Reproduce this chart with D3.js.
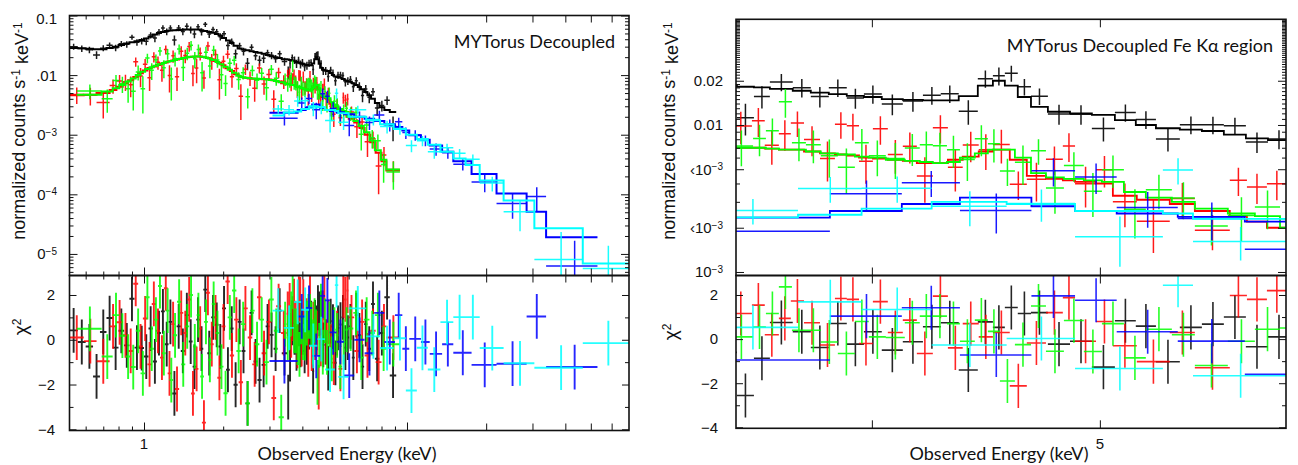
<!DOCTYPE html>
<html>
<head>
<meta charset="utf-8">
<script src="https://cdn.jsdelivr.net/npm/d3@7"></script>
<style>
  body { margin: 0; background: #fff; }
  svg text { font-family: "Liberation Sans", Arial, Helvetica, sans-serif; fill: #111; }
  svg text.cal { font-family: Lato, "Open Sans", sans-serif; }
</style>
</head>
<body>
<svg id="chart" width="1298" height="465"></svg>
<script>
// ---------------- spectra: bin edges (keV), model (counts/s/keV), residual (chi), 1-sigma error (% of model)

// EPIC-pn (black)
const pnEdges = [0.52,0.56,0.60,0.64,0.68,0.72,0.76,0.80,0.84,0.88,0.92,0.96,1.00,1.04,1.08,1.12,1.16,1.20,1.24,1.28,
  1.33,1.38,1.43,1.48,1.53,1.58,1.63,1.68,1.74,1.80,1.86,1.92,1.98,2.05,2.12,2.19,2.27,2.35,2.43,2.52,
  2.61,2.70,2.80,2.90,3.00,3.11,3.22,3.34,3.505,
  3.564,3.620,3.702,3.768,3.835,3.903,3.969,4.039,4.123,4.205,4.279,4.355,4.437,4.503,4.556,4.614,4.674,4.752,4.856,4.961,
  5.074,5.179,5.282,5.407,5.525,5.645,5.768,5.894,6.022,
  6.17,6.33,6.50,6.68,6.87,7.07,7.30,7.55,7.85,8.20,8.60,9.10];
const pnModel = [0.0286,0.0282,0.0276,0.0272,0.0272,0.0285,0.0300,0.0320,0.0340,0.0355,
  0.0370,0.0390,0.0410,0.0440,0.0480,0.0510,0.0530,0.0550,0.0558,0.0565,
  0.0572,0.0578,0.0580,0.0582,0.0582,0.0580,0.0565,0.0550,0.0530,0.0515,
  0.0490,0.0460,0.0420,0.0380,0.0345,0.0310,0.0280,0.0270,0.0262,0.0252,
  0.0245,0.0237,0.0228,0.0218,0.0208,0.0200,0.0193,0.0185,
  0.0182,0.0180,0.0176,0.0171,0.0166,0.0162,0.0158,0.0155,0.0150,0.0148,
  0.0147,0.0147,0.0157,0.0185,0.0200,0.0185,0.0155,0.0133,0.0123,0.0120,
  0.0117,0.0108,0.0100,0.0095,0.0093,0.0091,0.0086,0.0081,0.0079,
  0.0077,0.0073,0.0068,0.0063,0.0058,0.0052,0.0046,0.0040,0.0034,0.0029,0.0026,0.0024];
const pnChi = [0.42,-0.1,-0.3,-1.64,0.35,0.97,-0.35,0.4,-0.25,1.83,
  -0.35,-0.37,-0.75,0.5,-0.97,0.3,1.27,-0.2,0.8,-2.4,
  0.6,-0.5,1.1,-0.08,-1.2,0.9,-0.4,2.24,-0.6,1.0,
  0.67,-0.3,1.4,-1.34,0.5,-2.01,0.8,-0.5,-2.84,1.2,
  -0.97,-1.8,-1.12,0.6,0.22,-0.4,1.3,-0.6,
  -2.56,-0.87,0.75,0.33,-0.38,0.71,-0.23,0.33,-0.5,-0.12,
  0.56,0.74,-1.4,0.78,0.53,1.43,1.16,1.2,-0.23,-0.1,
  -1.27,0.83,0.59,-1.03,0.53,0.68,1.0,-0.35,0.1,
  0.6,-0.8,1.1,0.2,-1.2,0.7,-0.4,1.6,-0.85,0.3,1.9,-1.6];
const pnErr = [12,12,12,12,12,12,12,12,12,12,12,12,13,13,13,13,13,13,13,13,
  13,13,13,13,13,13,13,13,13,13,13,13,13,13,13,13,14,14,14,14,
  14,14,14,14,14,14,14,14,
  15,15,15,15,15,15,15,15,15,15,15,15,15,15,15,15,15,15,15,15,
  15,15,15,15,15,15,15,15,15,
  16,16,17,17,18,18,19,20,21,22,24,26];

// EPIC-MOS1 (red)
const mos1Edges = [0.52,0.59,0.66,0.74,0.785,0.83,0.87,0.91,0.95,0.99,1.03,1.07,1.11,1.15,1.19,1.23,1.27,1.31,1.36,1.41,
  1.46,1.51,1.56,1.61,1.66,1.72,1.78,1.84,1.90,1.97,2.04,2.12,2.20,2.29,2.38,2.48,2.58,2.69,2.80,2.92,
  3.05,3.18,3.32,3.48,
  3.557,3.602,3.652,3.695,3.743,3.802,3.858,3.903,3.950,4.004,4.063,4.123,4.180,4.246,4.309,4.372,4.441,4.503,4.578,4.655,
  4.743,4.822,4.880,4.981,5.064,5.184,5.354,5.487,5.678,5.774,5.888,6.003,
  6.30,6.60,6.90,7.25,7.60,8.00,8.35,9.40];
const mos1Model = [0.0046,0.0047,0.0050,0.0056,0.0064,0.0073,0.0082,0.0093,0.0107,0.0120,
  0.0131,0.0140,0.0148,0.0156,0.0163,0.0170,0.0176,0.0182,0.0189,0.0196,
  0.0201,0.0204,0.0206,0.0205,0.0201,0.0194,0.0185,0.0173,0.0159,0.0146,
  0.0130,0.0117,0.0103,0.0094,0.0090,0.0088,0.0087,0.0086,0.0085,0.0084,
  0.0082,0.0078,0.0073,
  0.0070,0.0070,0.0069,0.0068,0.0068,0.0066,0.0064,0.0063,0.0062,0.0060,
  0.0059,0.0058,0.0057,0.0055,0.0055,0.0058,0.0061,0.0066,0.0068,0.0058,
  0.0045,0.0043,0.0042,0.0041,0.0040,0.0033,0.0031,0.0029,0.0026,0.0024,0.0022,0.0020,
  0.00185,0.0016,0.0013,0.0010,0.00075,0.00050,0.00036,0.00025];
const mos1Chi = [0.1,-0.06,-0.96,0.6,0.78,0.2,-0.5,2.5,-0.3,0.95,
  -1.1,1.6,0.4,-0.8,2.3,-1.5,0.7,-2.2,1.2,0.3,
  1.8,-2.4,-1.3,0.5,-3.7,2.1,-0.2,1.0,-1.7,0.6,
  2.6,-0.7,0.9,-1.9,1.4,0.1,-1.1,1.9,-0.6,0.8,
  -2.6,1.5,0.3,
  1.16,1.54,0.2,0.94,1.73,0.74,-0.27,1.84,1.8,-0.2,
  1.7,0.3,0.86,-0.65,1.95,-0.4,0.7,0.1,0.3,-2.12,
  -0.18,1.2,1.88,-0.1,0.8,-0.3,-1.02,0.3,-1.3,1.98,1.8,2.2,
  1.0,-0.5,0.8,-0.7,0.4,-1.0,0.6,0.1];
const mos1Err = [32,32,32,32,32,32,32,32,32,28,28,28,28,28,28,28,28,22,28,28,
  28,20,28,28,15,28,28,28,28,28,28,28,28,28,28,28,28,28,28,28,
  20,28,28,
  35,34,28,30,30,28,28,33,33,28,35,28,30,28,38,28,28,28,28,15,
  28,30,38,30,30,30,28,30,20,38,40,45,
  30,30,32,34,36,40,45,40];

// EPIC-MOS2 (green)
const mos2Edges = [0.555,0.69,0.76,0.805,0.85,0.89,0.93,0.97,1.01,1.05,1.09,1.13,1.17,1.21,1.25,1.29,1.335,1.385,1.435,1.485,
  1.535,1.585,1.635,1.69,1.75,1.81,1.87,1.935,2.005,2.08,2.16,2.245,2.335,2.43,2.53,2.635,2.745,2.86,2.985,3.115,
  3.25,3.40,3.48,
  3.561,3.606,3.652,3.699,3.750,3.805,3.869,3.934,3.988,4.055,4.131,4.192,4.246,4.305,4.360,4.424,4.481,4.534,4.601,4.674,
  4.743,4.827,4.922,5.010,5.119,5.230,5.365,5.487,5.667,5.819,5.964,
  6.25,6.55,6.85,7.20,7.55,7.95,8.35,9.40];
const mos2Model = [0.0047,0.0053,0.0060,0.0068,0.0078,0.0088,0.0100,0.0114,0.0126,0.0136,
  0.0144,0.0152,0.0160,0.0167,0.0173,0.0179,0.0186,0.0193,0.0199,0.0203,
  0.0205,0.0206,0.0203,0.0198,0.0190,0.0180,0.0166,0.0152,0.0138,0.0123,
  0.0110,0.0098,0.0092,0.0089,0.0088,0.0087,0.0086,0.0085,0.0083,0.0080,
  0.0076,0.0072,
  0.0070,0.0070,0.0069,0.0068,0.0068,0.0066,0.0064,0.0063,0.0061,0.0060,
  0.0058,0.0057,0.0056,0.0055,0.0056,0.0060,0.0064,0.0068,0.0068,0.0060,
  0.0047,0.0044,0.0043,0.0042,0.0041,0.0035,0.0032,0.0030,0.0027,0.0025,0.0024,
  0.0020,0.0017,0.0014,0.0011,0.00080,0.00055,0.00038,0.00026];
const mos2Chi = [0.49,-0.75,1.1,0.18,-0.75,-1.22,0.4,-1.5,1.9,-0.4,
  0.9,2.4,-0.6,1.3,-1.8,0.2,1.7,-1.1,0.6,2.0,
  -0.3,1.1,-1.64,0.8,-0.9,1.6,0.3,-1.2,-2.39,1.0,
  2.2,-0.5,0.7,-2.84,1.3,-0.2,0.9,-1.0,1.8,0.4,
  -3.46,0.7,
  0.1,0.55,1.16,2.37,0.4,0.4,-0.13,-0.65,0.8,0.1,
  0.07,0.74,1.04,1.04,0.7,-0.1,0.86,0.35,-1.9,-0.25,
  1.5,-0.55,0.84,-0.56,0.7,-0.85,0.45,0.2,-1.2,-0.1,0.45,
  0.5,1.2,-0.8,0.9,0.3,1.1,-0.4,-0.2];
const mos2Err = [32,32,32,32,32,32,32,32,28,28,28,28,28,28,28,28,28,28,28,28,
  28,28,28,28,28,28,28,28,20,28,28,28,28,18,28,28,28,28,28,28,
  15,28,
  28,28,28,47,28,28,28,28,30,28,28,30,30,30,30,28,30,28,15,28,
  28,28,28,28,30,28,30,30,20,32,34,
  30,32,34,36,38,40,42,45];

// NuSTAR FPMA (blue)
const fpmaEdges = [3.0,3.839,4.119,4.360,4.676,4.880,5.083,5.396,5.762,6.3,6.9,7.5,8.2,9.0,9.6,10.2,11.3,12.2,13.6,15.0,17.6,21.9,28.5,33.8,53];
const fpmaModel = [0.00234,0.0026,0.0029,0.0032,0.0028,0.0026,0.0025,0.00237,0.0022,0.0020,0.00185,0.0017,
  0.0015,0.00135,0.00118,0.00098,0.00082,0.00066,0.00052,0.00036,0.00022,0.000103,0.000051,0.000019];
const fpmaChi = [-0.95,1.04,1.42,-0.72,1.96,1.76,0.33,-0.09,-1.6,0.0,-0.6,1.2,
  -0.1,1.1,-0.4,0.04,-0.1,-0.63,-0.2,-0.58,-1.12,-1.07,1.04,-1.22];
const fpmaErr = [20,30,28,25,38,40,30,28,22,22,22,22,22,20,20,20,20,20,20,19,24,30,77,55];

// NuSTAR FPMB (cyan)
const fpmbEdges = [3.08,3.40,3.721,3.960,4.241,4.564,4.880,5.318,5.477,6.0,7.0,7.9,8.9,9.9,10.9,12.0,13.4,15.0,16.7,18.9,23.3,30.5,46.6,70];
const fpmbModel = [0.0021,0.00235,0.00245,0.0027,0.0030,0.0029,0.0026,0.0025,0.0023,0.0020,0.00175,0.0015,
  0.00125,0.00100,0.00085,0.00068,0.00052,0.00040,0.00031,0.00017,0.000079,0.000027,0.0000069];
const fpmbChi = [1.3,0.53,1.69,1.34,-0.27,0.03,-1.33,2.44,-1.66,1.4,0.15,-0.37,
  0.07,-2.27,-0.36,-1.33,0.79,1.01,1.01,-0.37,-1.05,-1.25,-0.15];
const fpmbErr = [22,22,30,28,25,25,25,40,18,22,22,22,22,15,18,18,20,22,25,25,34,56,116];

// ---------------- axis labels
const leftCountTicks  = [0.1, 0.01, 1e-3, 1e-4, 1e-5];
const leftCountText   = ["0.1", ".01", "0", "0", "0"];
const leftCountSup    = ["", "", "\u22123", "\u22124", "\u22125"];
const rightCountTicks = [0.02, 0.01, 0.005, 0.002, 0.001];
const rightCountText  = ["0.02", "0.01", "\u2039" + "10", "\u2039" + "10", "10"];
const rightCountSup   = ["", "", "\u22123", "\u22123", "\u22123"];
const chiTicks = [2, 0, -2, -4];
const leftEnergyLabels = [1];
const rightEnergyLabels = [5];
const titles = ["MYTorus Decoupled", "MYTorus Decoupled Fe K\u03b1 region"];

// ---------------- build
const series = [
  {name: "pn",   color: "#000000", edges: pnEdges,   model: pnModel,   chi: pnChi,   err: pnErr},
  {name: "mos1", color: "#ff0000", edges: mos1Edges, model: mos1Model, chi: mos1Chi, err: mos1Err},
  {name: "mos2", color: "#00ff00", edges: mos2Edges, model: mos2Model, chi: mos2Chi, err: mos2Err},
  {name: "fpma", color: "#0000ff", edges: fpmaEdges, model: fpmaModel, chi: fpmaChi, err: fpmaErr},
  {name: "fpmb", color: "#00ffff", edges: fpmbEdges, model: fpmbModel, chi: fpmbChi, err: fpmbErr}
].map(s => ({...s, bins: s.model.map((m, i) => {
  const lo = s.edges[i], hi = s.edges[i + 1], sig = m * s.err[i] / 100;
  return {lo, hi, mid: (lo + hi) / 2, m, chi: s.chi[i], sig, d: m + s.chi[i] * sig};
})}));

const svg = d3.select("#chart");
const defs = svg.append("defs");

const panels = [
  {id: "L", x0: 69.5, x1: 629, yTop: 15.5, yMid: 275.5, yBot: 430.5,
   xDom: [0.5208, 69.85], yDom: [Math.pow(10, -5.362), 0.1], chiDom: [-4.054, 2.871],
   yTicks: leftCountTicks, yText: leftCountText, ySup: leftCountSup, yLabX: 57,
   chiLabX: 55, xLabels: leftEnergyLabels, xMajor: [1, 10], title: titles[0], titleX: 615, titleY: 48,
   ylabX: 25, ylabY: 131, chiLabelY: 327, xTitleX: 347, crossW: 1.5, resW: 1.9, modelW: 2},
  {id: "R", x0: 736, x1: 1286, yTop: 19.3, yMid: 275.5, yBot: 428.3,
   xDom: [3.502, 5.999], yDom: [Math.pow(10, -3.024), Math.pow(10, -1.281)], chiDom: [-4.045, 2.884],
   yTicks: rightCountTicks, yText: rightCountText, ySup: rightCountSup, yLabX: 723,
   chiLabX: 718, xLabels: rightEnergyLabels, xMajor: [4, 5], title: titles[1], titleX: 1273, titleY: 52,
   ylabX: 675, ylabY: 131, chiLabelY: 332, xTitleX: 999, crossW: 1.5, resW: 1.6, modelW: 1.8}
];

panels.forEach(p => {
  const x = d3.scaleLog().domain(p.xDom).range([p.x0, p.x1]);
  const y = d3.scaleLog().domain(p.yDom).range([p.yMid, p.yTop]);
  const yc = d3.scaleLinear().domain(p.chiDom).range([p.yBot, p.yMid]);

  defs.append("clipPath").attr("id", "cu" + p.id).append("rect")
    .attr("x", p.x0).attr("y", p.yTop).attr("width", p.x1 - p.x0).attr("height", p.yMid - p.yTop);
  defs.append("clipPath").attr("id", "cl" + p.id).append("rect")
    .attr("x", p.x0).attr("y", p.yMid).attr("width", p.x1 - p.x0).attr("height", p.yBot - p.yMid);

  const up = svg.append("g").attr("clip-path", `url(#cu${p.id})`);
  const lo = svg.append("g").attr("clip-path", `url(#cl${p.id})`);
  const yBelow = p.yMid + 10;
  const yv = v => (v > 0 ? y(v) : yBelow);
  const step = d3.line().curve(d3.curveStepAfter).x(d => x(d[0])).y(d => y(d[1]));

  series.forEach(s => {
    // data crosses
    up.append("path")
      .attr("d", s.bins.filter(b => b.d > 0).map(b =>
        `M${x(b.lo)},${y(b.d)}H${x(b.hi)}M${x(b.mid)},${yv(b.d - b.sig)}V${y(b.d + b.sig)}`).join(""))
      .attr("fill", "none").attr("stroke", s.color).attr("stroke-width", p.crossW)
      .attr("stroke-opacity", 0.9);
    // folded model, drawn as a histogram
    const pts = s.bins.map(b => [b.lo, b.m]);
    pts.push([s.bins[s.bins.length - 1].hi, s.bins[s.bins.length - 1].m]);
    up.append("path").attr("d", step(pts))
      .attr("fill", "none").attr("stroke", s.color).attr("stroke-width", p.modelW);
    // residuals
    lo.append("path")
      .attr("d", s.bins.map(b =>
        `M${x(b.lo)},${yc(b.chi)}H${x(b.hi)}M${x(b.mid)},${yc(b.chi - 1)}V${yc(b.chi + 1)}`).join(""))
      .attr("fill", "none").attr("stroke", s.color).attr("stroke-width", p.resW)
      .attr("stroke-opacity", 0.85);
  });

  // ---- ticks (inward) on every side
  const tickStyle = g => { g.select(".domain").remove(); g.selectAll("line").attr("stroke", "#111").attr("stroke-width", 1); g.selectAll("text").remove(); };
  const decade = v => Math.abs(Math.log10(v) - Math.round(Math.log10(v))) < 1e-6;

  const yAll = y.ticks(60);
  const yMaj = yAll.filter(v => p.id === "L" ? decade(v) : p.yTicks.some(t => Math.abs(t - v) / t < 1e-6));
  const yMin = yAll.filter(v => !yMaj.includes(v));
  [[yMaj, 8], [yMin, 4]].forEach(([vals, len]) => {
    svg.append("g").attr("transform", `translate(${p.x0},0)`).call(d3.axisLeft(y).tickValues(vals).tickSize(-len)).call(tickStyle);
    svg.append("g").attr("transform", `translate(${p.x1},0)`).call(d3.axisRight(y).tickValues(vals).tickSize(-len)).call(tickStyle);
  });

  const xAll = p.id === "L" ? x.ticks(30) : [];
  const xMid = xAll.filter(v => v > 10);
  const xMin = xAll.filter(v => v < 10 && !p.xMajor.includes(v));
  [[p.xMajor, 8], [xMid, 7], [xMin, 4]].forEach(([vals, len]) => {
    svg.append("g").attr("transform", `translate(0,${p.yTop})`).call(d3.axisTop(x).tickValues(vals).tickSize(-len)).call(tickStyle);
    svg.append("g").attr("transform", `translate(0,${p.yMid})`).call(d3.axisBottom(x).tickValues(vals).tickSize(-len)).call(tickStyle);
    svg.append("g").attr("transform", `translate(0,${p.yMid})`).call(d3.axisTop(x).tickValues(vals).tickSize(-len)).call(tickStyle);
    svg.append("g").attr("transform", `translate(0,${p.yBot})`).call(d3.axisBottom(x).tickValues(vals).tickSize(-len)).call(tickStyle);
  });

  const cAll = d3.range(-4, 3);
  [[cAll.filter(v => v % 2 === 0), 7], [cAll.filter(v => v % 2 !== 0), 4]].forEach(([vals, len]) => {
    svg.append("g").attr("transform", `translate(${p.x0},0)`).call(d3.axisLeft(yc).tickValues(vals).tickSize(-len)).call(tickStyle);
    svg.append("g").attr("transform", `translate(${p.x1},0)`).call(d3.axisRight(yc).tickValues(vals).tickSize(-len)).call(tickStyle);
  });

  // ---- frames
  [[p.yTop, p.yMid], [p.yMid, p.yBot]].forEach(([a, b]) => {
    svg.append("rect").attr("x", p.x0).attr("y", a).attr("width", p.x1 - p.x0).attr("height", b - a)
      .attr("fill", "none").attr("stroke", "#111").attr("stroke-width", 1.6);
  });

  // ---- tick labels
  p.yTicks.forEach((v, i) => {
    const t = svg.append("text").attr("x", p.yLabX).attr("y", Math.max(y(v), p.yTop + 3)).attr("dy", "0.36em")
      .attr("text-anchor", "end").attr("font-size", 15);
    t.append("tspan").text(p.yText[i]);
    if (p.ySup[i]) t.append("tspan").attr("dy", "-0.45em").attr("font-size", 10).text(p.ySup[i]);
  });
  chiTicks.forEach(v => {
    svg.append("text").attr("x", p.chiLabX).attr("y", yc(v)).attr("dy", "0.36em")
      .attr("text-anchor", "end").attr("font-size", 15).text(v < 0 ? "\u2212" + Math.abs(v) : String(v));
  });
  p.xLabels.forEach(v => {
    svg.append("text").attr("x", x(v)).attr("y", 449).attr("text-anchor", "middle")
      .attr("font-size", 15).text(String(v));
  });

  // ---- axis titles
  const yl = svg.append("text").attr("transform", `translate(${p.ylabX},${p.ylabY}) rotate(-90)`)
    .attr("text-anchor", "middle").attr("font-size", 18);
  yl.append("tspan").text("normalized counts s");
  yl.append("tspan").attr("dy", "-0.45em").attr("font-size", 12).text("-1");
  yl.append("tspan").attr("dy", "0.45em").text(" keV");
  yl.append("tspan").attr("dy", "-0.45em").attr("font-size", 12).text("-1");

  const cl = svg.append("text").attr("transform", `translate(${p.ylabX + 2},${p.chiLabelY}) rotate(-90)`)
    .attr("text-anchor", "middle").attr("font-size", 19);
  cl.append("tspan").text("\u03c7");
  cl.append("tspan").attr("dy", "-0.5em").attr("font-size", 12).text("2");

  svg.append("text").attr("class", "cal").attr("x", p.xTitleX).attr("y", 460)
    .attr("text-anchor", "middle").attr("font-size", 18).text("Observed Energy (keV)");
  svg.append("text").attr("class", "cal").attr("x", p.titleX).attr("y", p.titleY)
    .attr("text-anchor", "end").attr("font-size", 18).text(p.title);
});
</script>
</body>
</html>
